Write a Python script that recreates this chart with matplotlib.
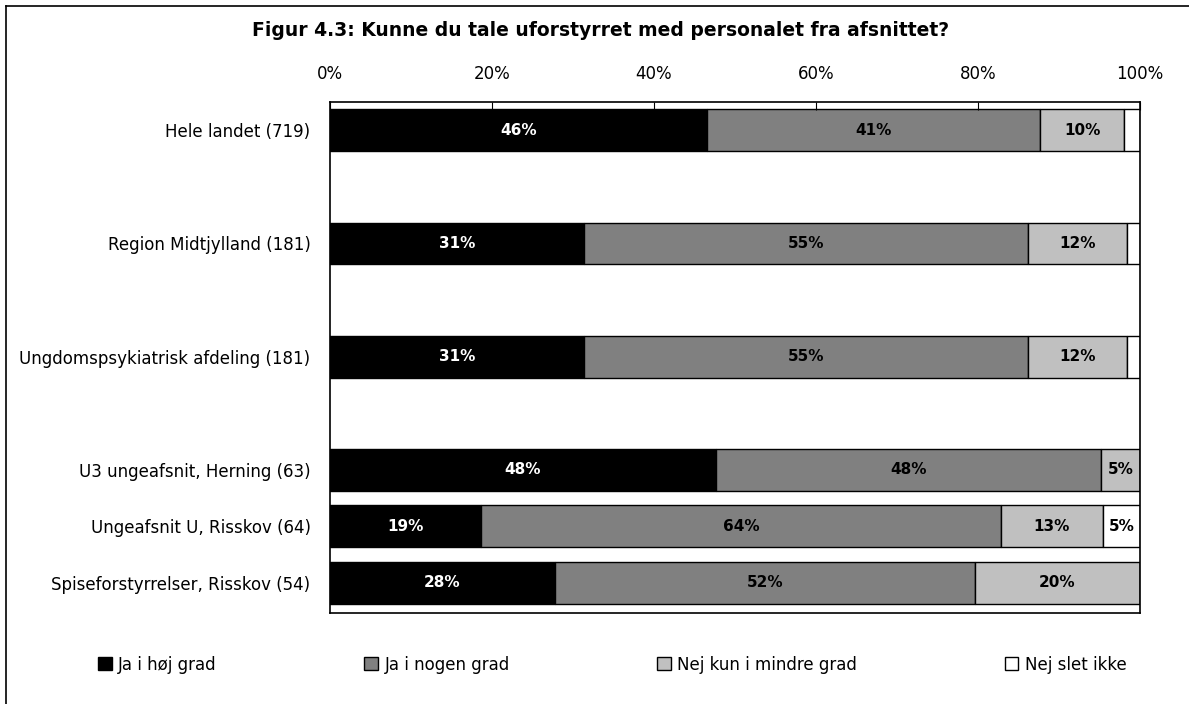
import numpy as np
import matplotlib.pyplot as plt
from matplotlib.lines import Line2D

categories = ['Hele landet (719)', 'Region Midtjylland (181)', 'Ungdomspsykiatrisk afdeling (181)',
              'U3 ungeafsnit, Herning (63)', 'Ungeafsnit U, Risskov (64)', 'Spiseforstyrrelser, Risskov (54)']
ypos = [0, 2, 4, 6, 7, 8]

series = ['Ja i høj grad', 'Ja i nogen grad', 'Nej kun i mindre grad', 'Nej slet ikke']
colors = ['#000000', '#808080', '#c0c0c0', '#ffffff']
txt_colors = ['white', 'black', 'black', 'black']

ja_hoej = [46.5, 31.4, 31.4, 47.6, 18.7, 27.8]
ja_nogen = [41.2, 54.8, 54.8, 47.6, 64.1, 51.8]
nej_mindre = [10.3, 12.2, 12.2, 4.8, 12.6, 20.4]
nej_slet = [2.0, 1.6, 1.6, 0.0, 4.6, 0.0]
values = [ja_hoej, ja_nogen, nej_mindre, nej_slet]

plt.rcParams['font.family'] = 'DejaVu Sans'
plt.rcParams['font.size'] = 12

fig = plt.figure(figsize=(11.89, 7.04), dpi=100)
ax = fig.add_axes([0.2775, 0.1293, 0.6813, 0.7258])

left = np.zeros(len(categories))
for vals, col, tc, name in zip(values, colors, txt_colors, series):
    vals = np.array(vals)
    ax.barh(ypos, vals, left=left, height=0.74, color=col, edgecolor='black', linewidth=1, label=name)
    for y, l, v in zip(ypos, left, vals):
        if v >= 4:
            ax.text(l + v / 2, y, '%d%%' % round(v), ha='center', va='center',
                    color=tc, fontweight='bold', fontsize=11)
    left += vals

ax.set_xlim(0, 100)
ax.set_ylim(8.53, -0.5)
ax.set_yticks(ypos)
ax.set_yticklabels(categories)
ax.tick_params(axis='y', length=0, pad=14)
ax.xaxis.tick_top()
ax.set_xticks(range(0, 101, 20))
ax.set_xticklabels(['%d%%' % t for t in range(0, 101, 20)])
ax.tick_params(axis='x', direction='in', length=6, pad=14)
for s in ax.spines.values():
    s.set_linewidth(1.2)

fig.text(0.505, 0.957, 'Figur 4.3: Kunne du tale uforstyrret med personalet fra afsnittet?',
         ha='center', va='center', fontweight='bold', fontsize=13.5)

fig.legend(loc='lower left', bbox_to_anchor=(0.07, 0.022, 0.89, 0.05), mode='expand', ncol=4,
           frameon=False, handlelength=0.8, handleheight=0.8, handletextpad=0.4, fontsize=12)

fig.add_artist(Line2D([0.005, 0.005], [0, 0.991], transform=fig.transFigure, color='black', lw=1.2))
fig.add_artist(Line2D([0.005, 1], [0.991, 0.991], transform=fig.transFigure, color='black', lw=1.2))

plt.savefig('out.png', dpi=100)
